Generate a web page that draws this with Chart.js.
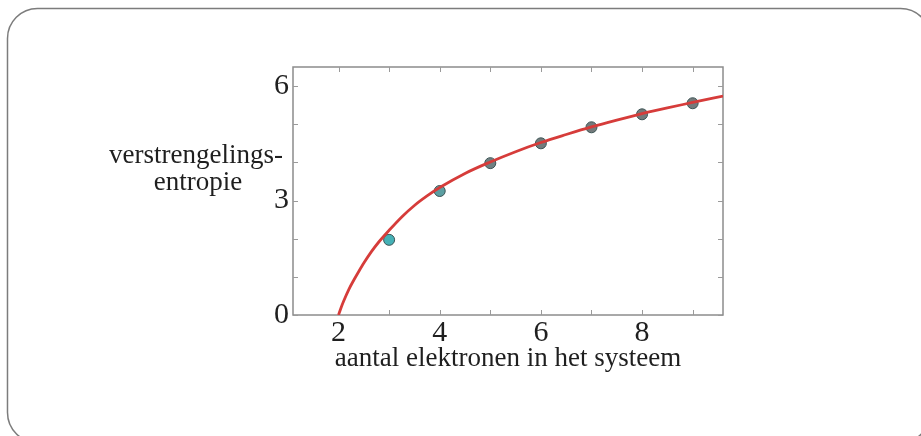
<!DOCTYPE html>
<html>
<head>
<meta charset="utf-8">
<script src="https://cdn.jsdelivr.net/npm/chart.js@4/dist/chart.umd.min.js"></script>
<style>
  html, body { margin: 0; padding: 0; background: #ffffff; }
  canvas { display: block; }
</style>
</head>
<body>
<canvas id="chart" width="921" height="436"></canvas>
<script>
// Measured entanglement entropy per number of electrons
const electronCounts = [3, 4, 5, 6, 7, 8, 9];
const entropyValues = [1.97, 3.25, 3.98, 4.50, 4.92, 5.26, 5.55];

// Fitted curve, sampled along the electron axis
const fitX = [2.0, 2.05, 2.1, 2.2, 2.3, 2.4, 2.5, 2.65, 2.8, 3.0, 3.25, 3.5, 3.75, 4.0, 4.5, 5.0, 5.5, 6.0, 6.5, 7.0, 7.5, 8.0, 8.5, 9.0, 9.6];
const fitY = [0, 0.19, 0.36, 0.66, 0.91, 1.14, 1.36, 1.66, 1.92, 2.22, 2.57, 2.87, 3.12, 3.34, 3.71, 4.01, 4.28, 4.52, 4.73, 4.93, 5.11, 5.28, 5.43, 5.57, 5.74];

// Tick positions and labelled ticks
const xTicks = [2, 3, 4, 5, 6, 7, 8, 9];
const xTickLabels = [2, 4, 6, 8];
const yTicks = [0, 1, 2, 3, 4, 5, 6];
const yTickLabels = [0, 3, 6];

const xTitle = 'aantal elektronen in het systeem';
const yTitleLines = ['verstrengelings-', 'entropie'];

const SERIF = '"Liberation Serif", "Times New Roman", serif';
const TEXT = '#1f1f1f';

// White page with a rounded frame around it
const pageFrame = {
  id: 'pageFrame',
  beforeDraw(chart) {
    const ctx = chart.ctx;
    ctx.save();
    ctx.fillStyle = '#ffffff';
    ctx.fillRect(0, 0, chart.width, chart.height);
    ctx.strokeStyle = '#7c7c7c';
    ctx.lineWidth = 1.5;
    ctx.beginPath();
    ctx.roundRect(7.5, 8.5, 923, 434, 30);
    ctx.stroke();
    ctx.restore();
  }
};

// Boxed plot area with inward tick marks on all four sides, plus axis titles
const plotBox = {
  id: 'plotBox',
  beforeDatasetsDraw(chart) {
    const { ctx, chartArea: a, scales: { x, y } } = chart;
    const len = 5;
    ctx.save();
    ctx.strokeStyle = '#8c8c8c';
    ctx.lineWidth = 1.5;
    ctx.strokeRect(a.left, a.top, a.right - a.left, a.bottom - a.top);
    ctx.lineWidth = 1;
    ctx.strokeStyle = '#9a9a9a';
    ctx.beginPath();
    xTicks.forEach(v => {
      const px = Math.round(x.getPixelForValue(v)) + 0.5;
      ctx.moveTo(px, a.bottom); ctx.lineTo(px, a.bottom - len);
      ctx.moveTo(px, a.top); ctx.lineTo(px, a.top + len);
    });
    yTicks.forEach(v => {
      const py = Math.round(y.getPixelForValue(v)) + 0.5;
      ctx.moveTo(a.left, py); ctx.lineTo(a.left + len, py);
      ctx.moveTo(a.right, py); ctx.lineTo(a.right - len, py);
    });
    ctx.stroke();
    ctx.restore();
  },
  afterDraw(chart) {
    const { ctx, chartArea: a } = chart;
    ctx.save();
    ctx.fillStyle = TEXT;
    ctx.font = '27px ' + SERIF;
    ctx.textAlign = 'center';
    ctx.textBaseline = 'alphabetic';
    ctx.fillText(xTitle, (a.left + a.right) / 2, 366);
    ctx.fillText(yTitleLines[0], 196, 163);
    ctx.fillText(yTitleLines[1], 198, 190);
    ctx.restore();
  }
};

new Chart(document.getElementById('chart'), {
  type: 'scatter',
  data: {
    datasets: [
      {
        label: 'fit',
        data: fitX.map((v, i) => ({ x: v, y: fitY[i] })),
        showLine: true,
        borderColor: '#d63c3a',
        borderWidth: 2.8,
        pointRadius: 0,
        cubicInterpolationMode: 'monotone',
        fill: false
      },
      {
        label: 'entropie',
        data: electronCounts.map((v, i) => ({ x: v, y: entropyValues[i] })),
        showLine: false,
        pointRadius: 5.5,
        pointBackgroundColor: ['#45b1b6', '#5c9fa2', '#6f8082', '#717b7c', '#737a7b', '#737a7b', '#737a7b'],
        pointBorderColor: '#3d5556',
        pointBorderWidth: 1
      }
    ]
  },
  options: {
    responsive: false,
    devicePixelRatio: 1,
    animation: false,
    layout: { padding: { left: 0, top: 67, right: 198, bottom: 0 } },
    plugins: {
      legend: { display: false },
      tooltip: { enabled: false },
      title: { display: false }
    },
    scales: {
      x: {
        type: 'linear',
        min: 1.1,
        max: 9.6,
        afterBuildTicks: s => { s.ticks = xTicks.map(v => ({ value: v })); },
        afterFit: s => { s.height = 121; },
        grid: { display: false, drawTicks: false },
        border: { display: false },
        ticks: {
          autoSkip: false,
          maxRotation: 0,
          padding: 0,
          color: TEXT,
          font: { family: SERIF, size: 30 },
          callback: v => (xTickLabels.includes(v) ? String(v) : '')
        }
      },
      y: {
        type: 'linear',
        min: 0,
        max: 6.5,
        afterBuildTicks: s => { s.ticks = yTicks.map(v => ({ value: v })); },
        afterFit: s => { s.width = 293; },
        grid: { display: false, drawTicks: false },
        border: { display: false },
        ticks: {
          autoSkip: false,
          padding: 4,
          color: TEXT,
          font: { family: SERIF, size: 30 },
          callback: v => (yTickLabels.includes(v) ? String(v) : '')
        }
      }
    }
  },
  plugins: [pageFrame, plotBox]
});
</script>
</body>
</html>
